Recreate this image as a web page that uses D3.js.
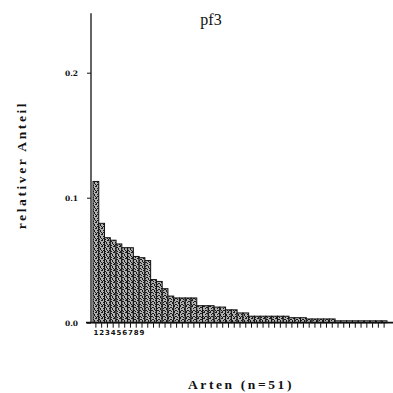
<!DOCTYPE html>
<html>
<head>
<meta charset="utf-8">
<script src="https://cdn.jsdelivr.net/npm/d3@7"></script>
<style>
  html, body { margin: 0; padding: 0; background: #fff; }
  svg { display: block; }
</style>
</head>
<body>
<svg id="chart" width="393" height="393"></svg>
<script>
// ---- data ----
const title = "pf3";
const xLabel = "Arten (n=51)";
const yLabel = "relativer Anteil";
const species = d3.range(1, 52);
const shares = [
  0.113, 0.0795, 0.068, 0.066, 0.063, 0.060, 0.060, 0.053, 0.052, 0.0497,
  0.0345, 0.033, 0.0272, 0.0213, 0.0198, 0.0198, 0.0198, 0.0198, 0.0136, 0.0136,
  0.0136, 0.0125, 0.0125, 0.0103, 0.0103, 0.0078, 0.0078, 0.0052, 0.0052, 0.0052,
  0.0052, 0.0052, 0.0052, 0.0052, 0.0040, 0.0040, 0.0040, 0.0030, 0.0030, 0.0030,
  0.0030, 0.0030, 0.0015, 0.0015, 0.0015, 0.0015, 0.0015, 0.0015, 0.0015, 0.0015,
  0.0015
];
const yTicks = [0, 0.1, 0.2];
const xTickLabels = [1, 2, 3, 4, 5, 6, 7, 8, 9];

// ---- layout ----
const svg = d3.select("#chart");
const x0 = 93, x1 = 387;
const yBase = 322.7, yTopVal = 0.25, yTopPx = 10.2;

const x = d3.scaleBand().domain(species).range([x0, x1]).padding(0);
const y = d3.scaleLinear().domain([0, yTopVal]).range([yBase, yTopPx]);

// stipple pattern
const defs = svg.append("defs");
const pat = defs.append("pattern")
  .attr("id", "stip").attr("patternUnits", "userSpaceOnUse")
  .attr("width", 6).attr("height", 6);
pat.append("rect").attr("width", 6).attr("height", 6).attr("fill", "#b0b0b0");
[[0,0],[3,1],[5,0],[1,2],[4,3],[2,4],[0,5],[5,4],[3,5],[1,4],[2,1],[4,2]].forEach(([a,b]) => {
  pat.append("rect").attr("x", a).attr("y", b).attr("width", 1).attr("height", 1).attr("fill", "#1a1a1a");
});

// bars
svg.append("g").selectAll("rect").data(species).join("rect")
  .attr("x", d => x(d))
  .attr("y", (d, i) => y(shares[i]))
  .attr("width", x.bandwidth())
  .attr("height", (d, i) => yBase - y(shares[i]))
  .attr("fill", "url(#stip)")
  .attr("stroke", "#111")
  .attr("stroke-width", 1);

// x axis
const xAxis = d3.axisBottom(x)
  .tickSize(5)
  .tickSizeOuter(0)
  .tickFormat(d => xTickLabels.includes(d) ? String(d) : "");
const gx = svg.append("g").attr("transform", `translate(0,${yBase})`).call(xAxis);
gx.select(".domain").remove();
gx.selectAll(".tick line").attr("stroke", "#111").attr("stroke-width", 1);
gx.selectAll(".tick text")
  .attr("font-family", "'DejaVu Sans', sans-serif")
  .attr("font-weight", "bold").attr("font-size", 7).attr("fill", "#111")
  .attr("dy", "0.6em");
svg.append("line")
  .attr("x1", 86).attr("x2", 393).attr("y1", yBase).attr("y2", yBase)
  .attr("stroke", "#111").attr("stroke-width", 1.8);

// y axis
const yAxis = d3.axisLeft(y).tickValues(yTicks).tickSize(4).tickSizeOuter(0)
  .tickPadding(9).tickFormat(d3.format(".1f"));
const gy = svg.append("g").attr("transform", `translate(91,0)`).call(yAxis);
gy.select(".domain").remove();
gy.selectAll(".tick line").attr("stroke", "#111");
gy.selectAll(".tick text")
  .attr("font-family", "'DejaVu Serif', serif")
  .attr("font-weight", "bold").attr("font-size", 7.5).attr("fill", "#111");
svg.append("line")
  .attr("x1", 91).attr("x2", 91).attr("y1", yBase).attr("y2", y(0.2476))
  .attr("stroke", "#111").attr("stroke-width", 1.3);

// title
svg.append("text").attr("x", 211).attr("y", 25).attr("text-anchor", "middle")
  .attr("font-family", "'Liberation Serif', serif").attr("font-size", 16)
  .attr("fill", "#111").text(title);

// y label
svg.append("text")
  .attr("transform", "translate(26,165) rotate(-90)")
  .attr("text-anchor", "middle")
  .attr("font-family", "'Liberation Serif', serif").attr("font-weight", "bold")
  .attr("font-size", 13.5).attr("letter-spacing", 2.6).attr("fill", "#111")
  .text(yLabel);

// x label
svg.append("text").attr("x", 241).attr("y", 389).attr("text-anchor", "middle")
  .attr("font-family", "'Liberation Serif', serif").attr("font-weight", "bold")
  .attr("font-size", 13.5).attr("letter-spacing", 2.6).attr("fill", "#111")
  .text(xLabel);
</script>
</body>
</html>
